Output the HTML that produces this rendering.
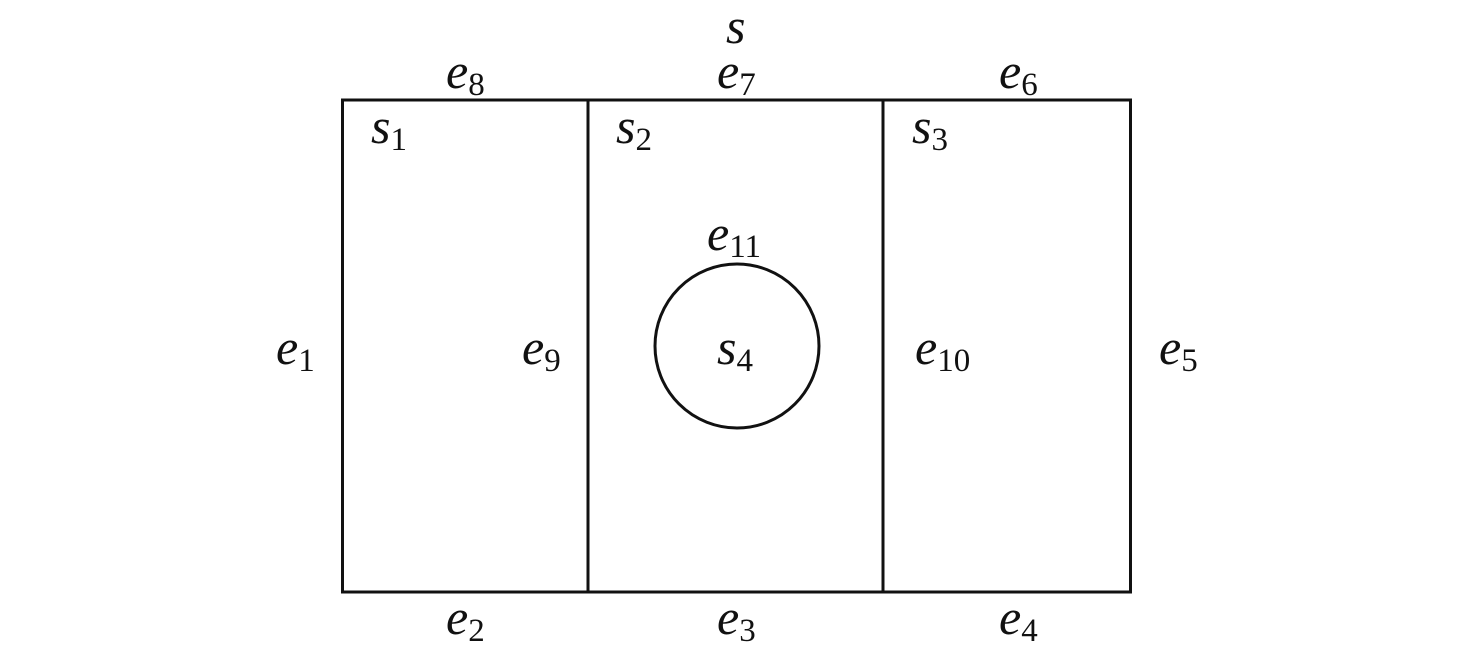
<!DOCTYPE html>
<html><head><meta charset="utf-8"><style>
html,body{margin:0;padding:0;background:#fff;}
svg{display:block;}
text{font-family:"Liberation Serif","Times New Roman",serif;font-style:italic;font-size:50px;fill:#111;}
tspan.s{font-style:normal;font-size:33px;}
</style></head><body>
<svg width="1476" height="654" viewBox="0 0 1476 654" xmlns="http://www.w3.org/2000/svg">
<g fill="none" stroke="#111" stroke-width="3">
<rect x="342.5" y="100" width="788" height="492"/>
<line x1="588" y1="100" x2="588" y2="592"/>
<line x1="883" y1="100" x2="883" y2="592"/>
<circle cx="737" cy="346" r="82"/>
</g>
<text x="726" y="43">s</text>
<text x="446" y="88">e<tspan class="s" dy="7">8</tspan></text>
<text x="717" y="88">e<tspan class="s" dy="7">7</tspan></text>
<text x="999" y="88">e<tspan class="s" dy="7">6</tspan></text>
<text x="371" y="143">s<tspan class="s" dy="7">1</tspan></text>
<text x="616" y="143">s<tspan class="s" dy="7">2</tspan></text>
<text x="912" y="143">s<tspan class="s" dy="7">3</tspan></text>
<text x="707" y="250">e<tspan class="s" dy="7">11</tspan></text>
<text x="276" y="364">e<tspan class="s" dy="7">1</tspan></text>
<text x="522" y="364">e<tspan class="s" dy="7">9</tspan></text>
<text x="717" y="364">s<tspan class="s" dy="7">4</tspan></text>
<text x="915" y="364">e<tspan class="s" dy="7">10</tspan></text>
<text x="1159" y="364">e<tspan class="s" dy="7">5</tspan></text>
<text x="446" y="634">e<tspan class="s" dy="7">2</tspan></text>
<text x="717" y="634">e<tspan class="s" dy="7">3</tspan></text>
<text x="999" y="634">e<tspan class="s" dy="7">4</tspan></text>
</svg>
</body></html>
